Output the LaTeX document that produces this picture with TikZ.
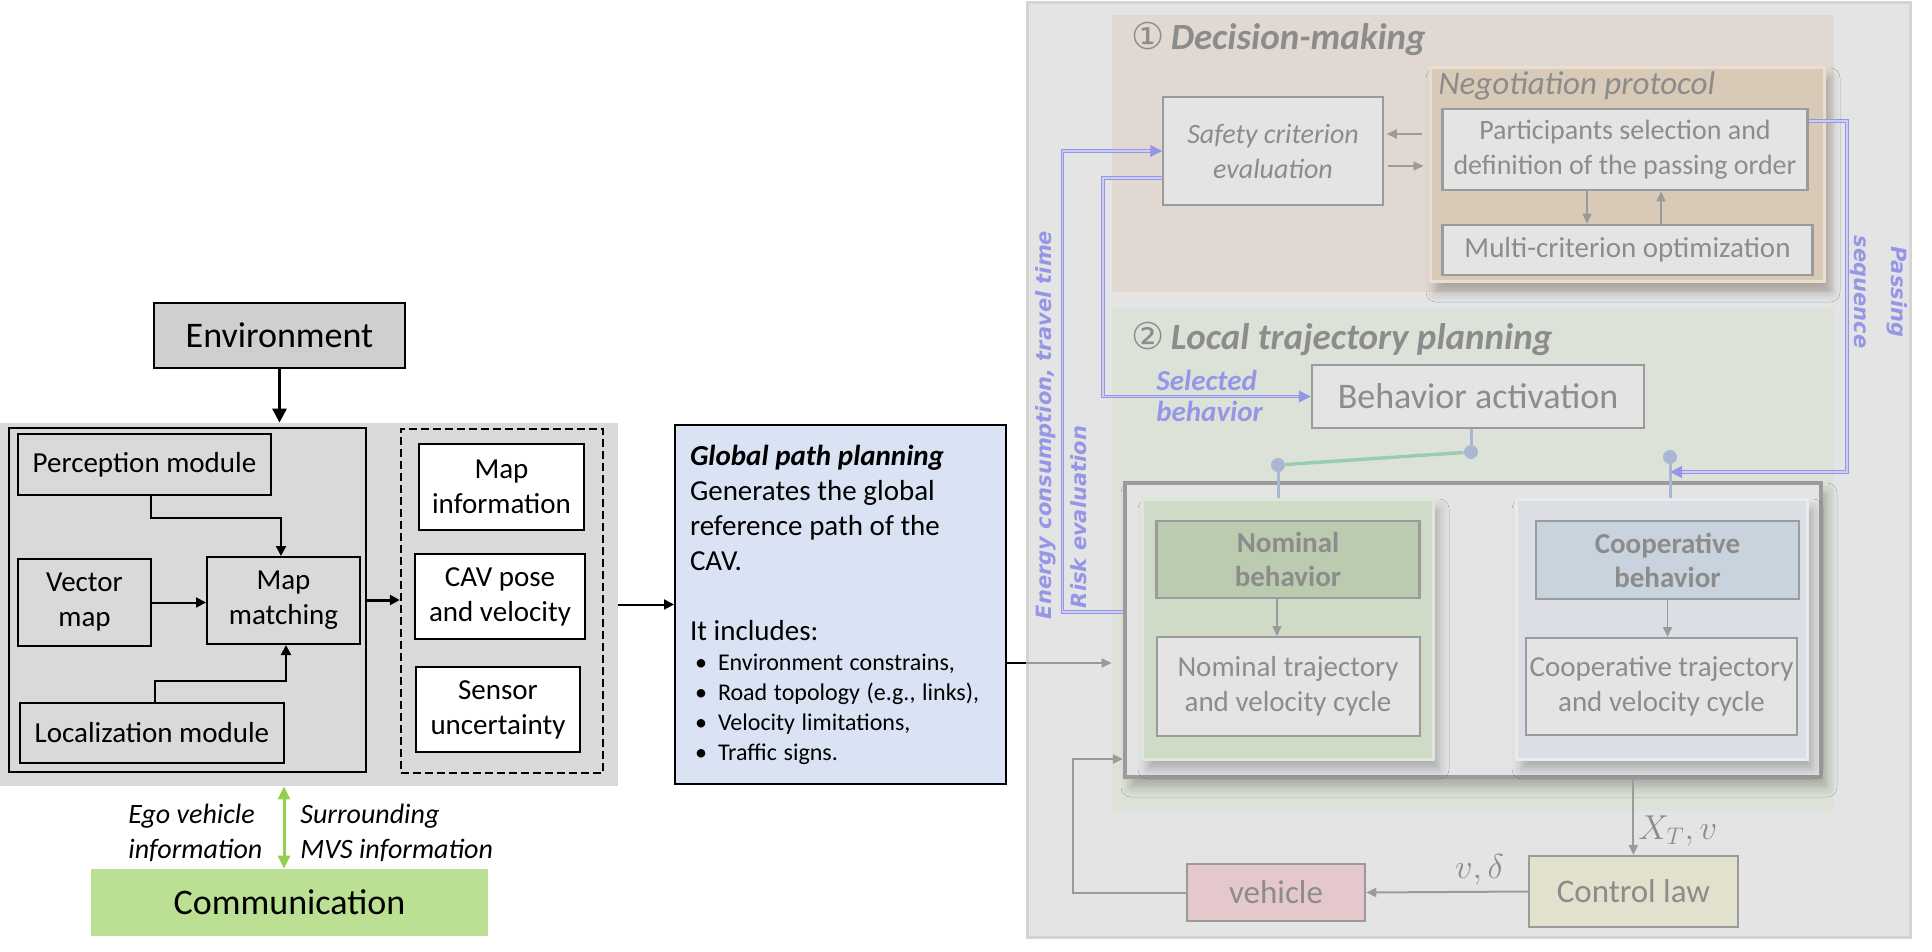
\documentclass[tikz,border=0pt]{standalone}
\usepackage{fontspec}
\setmainfont{Carlito}
\newfontfamily\dejavu{DejaVu Sans}
\usetikzlibrary{arrows.meta,calc,shadows.blur}

\definecolor{leftgray}{RGB}{217,217,217}
\definecolor{envgray}{RGB}{208,206,206}
\definecolor{gppblue}{RGB}{218,227,243}
\definecolor{commgreen}{RGB}{187,224,147}
\definecolor{arrowgreen}{RGB}{146,208,80}
\definecolor{panelgray}{RGB}{228,228,228}
\definecolor{paneledge}{RGB}{212,212,212}
\definecolor{dmbrown}{RGB}{224,216,209}
\definecolor{negtan}{RGB}{217,201,183}
\definecolor{negedge}{RGB}{233,222,209}
\definecolor{locgreen}{RGB}{221,226,216}
\definecolor{boxedge}{RGB}{155,155,155}
\definecolor{fadetext}{RGB}{140,140,140}
\definecolor{fadeblue}{RGB}{150,150,232}
\definecolor{fadebluein}{RGB}{205,205,242}
\definecolor{switchgreen}{RGB}{150,206,174}
\definecolor{ballblue}{RGB}{170,182,212}
\definecolor{nompanel}{RGB}{207,218,199}
\definecolor{nomedge}{RGB}{222,230,215}
\definecolor{nombox}{RGB}{186,203,176}
\definecolor{cooppanel}{RGB}{219,223,229}
\definecolor{coopedge}{RGB}{232,235,238}
\definecolor{coopbox}{RGB}{201,211,222}
\definecolor{vehpink}{RGB}{229,200,204}
\definecolor{ctrlbeige}{RGB}{225,225,206}

\newcommand{\gppitem}[1]{\makebox[14pt][l]{\hspace{2.5pt}\textbullet}#1}

\tikzset{
  sz/.style 2 args={minimum width=#1*0.5pt, minimum height=#2*0.5pt},
  lbox/.style={draw=black, line width=1pt, inner sep=0pt, align=center,
    font=\fontsize{14.5}{17.5}\selectfont},
  larrow/.style={line width=1pt, -{Triangle[length=5pt,width=5pt]}},
  fbox/.style={draw=boxedge, line width=1pt, fill=panelgray, inner sep=0pt,
    align=center, text=fadetext, font=\fontsize{14.5}{17.5}\selectfont},
  farrow/.style={draw=boxedge, line width=1pt, -{Triangle[length=5pt,width=4.5pt]}},
  blueline/.style={draw=fadeblue, double=fadebluein, double distance=0.8pt,
    line width=0.5pt, -{Triangle[length=6pt,width=6pt]}},
  bluelbl/.style={text=fadeblue, inner sep=0pt},
  ball/.style={circle, fill=ballblue, inner sep=0pt, minimum size=7pt},
  ballline/.style={draw=ballblue, line width=1.5pt},
  paneltitle/.style={anchor=base west, inner sep=0pt, text=fadetext,
    font=\fontsize{18.5}{22}\selectfont\bfseries\itshape},
  softshadow/.style={blur shadow={shadow xshift=3pt, shadow yshift=-5pt,
    shadow blur radius=5pt, shadow opacity=25}},
}

\begin{document}
\begin{tikzpicture}[x=0.5pt, y=-0.5pt]
\useasboundingbox (0,0) rectangle (1932,952);

%%%%% LEFT: sensing %%%%%
\node[fill=leftgray, inner sep=0pt, sz={618}{363}] (sensbg) at (309,604.5) {};
\node[lbox, fill=envgray, sz={251}{65}, font=\fontsize{18}{22}\selectfont] (env) at (279.5,335.5) {Environment};
\draw[line width=1.5pt, -{Triangle[length=7pt,width=7pt]}] (env.south) -- (env.south |- sensbg.north);

\node[lbox, fill=leftgray, sz={357}{344}] (sens) at (187.5,600) {};
\node[lbox, fill=leftgray, sz={253}{61}] (perc) at (144.5,464.5) {Perception module};
\node[lbox, fill=leftgray, sz={133}{87}] (vmap) at (84.5,602.5) {Vector\\map};
\node[lbox, fill=leftgray, sz={153}{87}] (mmatch) at (283.5,600.5) {Map\\matching};
\node[lbox, fill=leftgray, sz={264}{60}] (locm) at (152,733) {Localization module};

\draw[larrow] ([xshift=3.25pt]perc.south) -- ++(0,22) -| ([xshift=-1.25pt]mmatch.north);
\draw[larrow] (vmap.east) -- (vmap.east -| mmatch.west);
\draw[larrow] ([xshift=1.5pt]locm.north) -- ++(0,-21) -| ([xshift=1.25pt]mmatch.south);

\node[lbox, line width=1.2pt, dash pattern=on 4pt off 2pt, sz={202}{344}] (info) at (502,601) {};
\node[lbox, fill=white, sz={165}{86}] (mapinfo) at (501.5,487) {Map\\information};
\node[lbox, fill=white, sz={170}{85}] (cav) at (500,596.5) {CAV pose\\and velocity};
\node[lbox, fill=white, sz={164}{85}] (sensu) at (498,709.5) {Sensor\\uncertainty};
\draw[line width=1.5pt, -{Triangle[length=5pt,width=5pt]}] (sens.east) -- (sens.east -| info.west);

%%%%% communication %%%%%
\node[fill=commgreen, inner sep=0pt, sz={397}{67}, font=\fontsize{18}{22}\selectfont] (comm) at (289.5,902.5) {Communication};
\draw[arrowgreen, line width=1.5pt, {Triangle[length=6.5pt,width=6pt]}-{Triangle[length=6.5pt,width=6pt]}]
  ([xshift=-2.75pt]comm.north) -- ([xshift=-2.75pt]comm.north |- sensbg.south);
\node[anchor=west, align=left, inner sep=0pt, font=\fontsize{14}{17.5}\selectfont\itshape] (egolbl) at (128,833) {Ego vehicle\\information};
\node[anchor=west, align=left, inner sep=0pt, font=\fontsize{14}{17.5}\selectfont\itshape] (mvslbl) at (300,833) {Surrounding\\MVS information};

%%%%% global path planning %%%%%
\node[draw=black, line width=1pt, fill=gppblue, sz={331}{359}, text width=150.5pt,
  inner xsep=7.5pt, inner ysep=0pt, align=left] (gpp) at (840.5,604.5) {%
  {\fontsize{14.5}{17.5}\selectfont\textbf{\textit{Global path planning}}\\
  Generates the global\\
  reference path of the\\
  CAV.\\[17.5pt]
  It includes:\par}
  {\fontsize{12}{15}\selectfont
  \gppitem{Environment constrains,}\\
  \gppitem{Road topology (e.g., links),}\\
  \gppitem{Velocity limitations,}\\
  \gppitem{Traffic signs.}\par}};
\draw[larrow] (sensbg.east |- gpp.west) -- (gpp.west);

%%%%% RIGHT: decision-making %%%%%
\node[fill=panelgray, draw=paneledge, line width=1.5pt, sz={883}{934}] (panel) at (1468.5,470) {};
\node[fill=dmbrown, inner sep=0pt, sz={722}{277}] (dm) at (1473,153.5) {};
\node[paneltitle] (dmtitle) at (1131,50) {{\dejavu\mdseries\upshape ①}\,Decision-making};

\node[fill=negtan, draw=negedge, line width=1.5pt, inner sep=0pt, sz={394}{214}, softshadow] (neg) at (1627,175) {};
\node[anchor=base west, inner sep=0pt, text=fadetext, font=\fontsize{16.5}{20}\selectfont\itshape] (negtitle) at (1438,95) {Negotiation protocol};
\node[fbox, line width=1.3pt, sz={365.5}{81}, font=\fontsize{14}{17.5}\selectfont] (part) at (1625,149.5) {Participants selection and\\definition of the passing order};
\node[fbox, line width=1.3pt, sz={370}{50}] (multi) at (1627.5,250) {Multi-criterion optimization};
\node[fbox, sz={219.5}{108}, font=\fontsize{14}{17.5}\selectfont\itshape] (safe) at (1273,151) {Safety criterion\\evaluation};

\draw[farrow, shorten <=3.5pt, shorten >=1.5pt] ([yshift=8.5pt]safe.east -| neg.west) -- ([yshift=8.5pt]safe.east);
\draw[farrow, shorten <=2pt, shorten >=2.5pt] ([yshift=-7.5pt]safe.east) -- ([yshift=-7.5pt]safe.east -| neg.west);
\draw[farrow, line width=0.8pt] ([xshift=-19pt]part.south) -- ([xshift=-19pt]part.south |- multi.north);
\draw[farrow, line width=0.8pt] ([xshift=18pt]part.south |- multi.north) -- ([xshift=18pt]part.south);

%%%%% RIGHT: local trajectory planning %%%%%
\node[fill=locgreen, inner sep=0pt, sz={722}{503}] (loc) at (1473,559.5) {};
\node[paneltitle] (loctitle) at (1131,350) {{\dejavu\mdseries\upshape ②}\,Local trajectory planning};
\node[fbox, sz={332.5}{63}, font=\fontsize{18}{22}\selectfont] (bact) at (1478,396.5) {Behavior activation};
\node[bluelbl, anchor=west, align=left, font=\fontsize{14.5}{15.5}\selectfont\bfseries\itshape] (sellbl) at (1156,396) {Selected\\behavior};

\node[fill=panelgray, draw=boxedge, line width=2.2pt, sz={696}{294}, softshadow] (traj) at (1473,630) {};
\node[fill=nompanel, draw=nomedge, line width=1.5pt, sz={291}{260}, softshadow] (nompan) at (1287.5,629) {};
\node[fill=cooppanel, draw=coopedge, line width=1.5pt, sz={291}{260}, softshadow] (cooppan) at (1661.5,629) {};
\node[fbox, fill=nombox, line width=1.4pt, sz={263}{77}, font=\fontsize{14.5}{17}\selectfont\bfseries] (nomb) at (1288,559.5) {Nominal\\behavior};
\node[fbox, sz={263}{99}] (nomt) at (1288,686.5) {Nominal trajectory\\and velocity cycle};
\node[fbox, fill=coopbox, line width=1.4pt, sz={263}{78}, font=\fontsize{14.5}{17}\selectfont\bfseries] (coopb) at (1667.5,560) {Cooperative\\behavior};
\node[fbox, sz={271}{97}] (coopt) at (1661.5,686.5) {Cooperative trajectory\\and velocity cycle};
\draw[farrow, line width=0.8pt] ([xshift=-5.5pt]nomb.south) -- ([xshift=-5.5pt]nomb.south |- nomt.north);
\draw[farrow, line width=0.8pt] (coopb.south) -- (coopb.south |- coopt.north);

% behaviour switch
\node[ball] (bball) at (1471,452) {};
\node[ball] (nball) at (1278,465) {};
\node[ball] (cball) at (1670,457) {};
\draw[ballline] (bball |- bact.south) -- (bball);
\draw[ballline] (nball) -- (nball |- nompan.north);
\draw[ballline] (cball) -- (cball |- cooppan.north);
\draw[switchgreen, line width=1.7pt] (bball) -- (nball);
\coordinate (passin) at (cball.center |- 0,472);

%%%%% control loop %%%%%
\node[fbox, fill=ctrlbeige, sz={208.7}{71}, font=\fontsize{16.5}{20}\selectfont] (ctrl) at (1633.4,891.5) {Control law};
\node[fbox, fill=vehpink, sz={178.5}{57}, font=\fontsize{16.5}{20}\selectfont] (veh) at (1276,892.5) {vehicle};
\draw[farrow] (traj.south -| ctrl.north) -- node[pos=0.68, right, inner sep=2pt, text=fadetext, font=\fontsize{17}{20}\selectfont] (xtlbl) {$X_T, v$} (ctrl.north);
\draw[farrow] (ctrl.west) -- node[pos=0.3, above, inner sep=3pt, text=fadetext, font=\fontsize{17}{20}\selectfont] (vdlbl) {$v,\delta$} (veh.east);
\draw[farrow] (veh.west) -- ++(-113,0) |- ([yshift=-64.5pt]traj.west);

% input from global path planning
\coordinate (gppin) at (loc.west |- 0,663);
\draw[line width=1pt] (gpp.east |- gppin) -- (panel.west |- gppin);
\draw[farrow] (panel.west |- gppin) -- (gppin);

%%%%% feedback between layers %%%%%
\draw[blueline] ([yshift=9pt]traj.west) -- ++(-60.5,0) |- (safe.west);
\draw[blueline] ([yshift=-13.5pt]safe.west) -- ++(-59.5,0) |- (bact.west);
\draw[blueline] ([yshift=14.25pt]part.east) -- ++(38,0) |- (passin);

\node[bluelbl, rotate=90, font=\dejavu\fontsize{10.5}{12}\selectfont\bfseries\itshape] (energylbl) at (1046,425) {Energy consumption, travel time};
\node[bluelbl, rotate=90, font=\dejavu\fontsize{10.5}{12}\selectfont\bfseries\itshape] (risklbl) at (1079,517) {Risk evaluation};
\node[bluelbl, rotate=-90, align=center, font=\dejavu\fontsize{10.5}{18.5}\selectfont\bfseries\itshape] (passlbl) at (1879,292) {Passing\\sequence};

\end{tikzpicture}
\end{document}
